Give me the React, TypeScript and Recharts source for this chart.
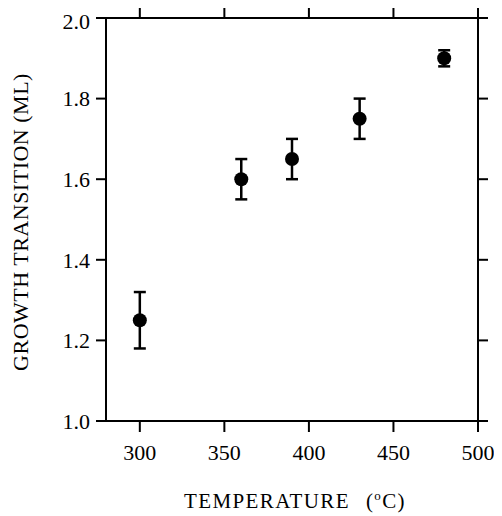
import { ComposedChart, Scatter, XAxis, YAxis, ErrorBar } from "recharts";

const temperatures = [300, 360, 390, 430, 480];
const transition = [1.25, 1.6, 1.65, 1.75, 1.9];
const transitionErr = [0.07, 0.05, 0.05, 0.05, 0.02];
const xTicks = [300, 350, 400, 450, 500];
const yTicks = [1.0, 1.2, 1.4, 1.6, 1.8, 2.0];

const X_MIN = 280;
const X_MAX = 500;
const Y_MIN = 1;
const Y_MAX = 2;

const rows = temperatures.map((t, i) => ({
  t,
  ml: transition[i],
  err: transitionErr[i],
}));

// anchor points for the outward ticks on the top and right frame
const topTickRows = xTicks.map((t) => ({ t, ml: Y_MAX }));
const rightTickRows = yTicks.map((ml) => ({ t: X_MAX, ml }));

const FONT = "Liberation Serif";
const tickStyle = { fill: "#000", fontSize: 22, fontFamily: FONT, style: { fontFamily: FONT } };
const lineStyle = { stroke: "#000", strokeWidth: 2 };

const upTick = ({ cx, cy }: any) => (
  <line x1={cx} x2={cx} y1={cy} y2={cy - 10} stroke="#000" strokeWidth={2} />
);
const rightTick = ({ cx, cy }: any) => (
  <line x1={cx} x2={cx + 10} y1={cy} y2={cy} stroke="#000" strokeWidth={2} />
);

function XTitle({ viewBox }: any) {
  const cx = viewBox.x + viewBox.width / 2 + 3;
  return (
    <text
      x={cx}
      y={500}
      textAnchor="middle"
      fill="#000"
      fontSize={21}
      letterSpacing={1.4}
      style={{ fontFamily: FONT }}
    >
      TEMPERATURE
      <tspan dx={16}>(</tspan>
      <tspan fontSize={13} dy={-8}>o</tspan>
      <tspan dy={8}>C)</tspan>
    </text>
  );
}

function YTitle({ viewBox }: any) {
  const cy = viewBox.y + viewBox.height / 2 + 2.5;
  return (
    <text
      x={20}
      y={cy}
      transform={`rotate(-90, 20, ${cy})`}
      textAnchor="middle"
      fill="#000"
      fontSize={22}
      letterSpacing={0.5}
      style={{ fontFamily: FONT }}
    >
      GROWTH TRANSITION (ML)
    </text>
  );
}

const dot = (props: any) => <circle cx={props.cx} cy={props.cy} r={7} fill="#000" />;

export default function App() {
  return (
    <ComposedChart
      width={494}
      height={508}
      data={rows}
      margin={{ top: 9, right: 23, bottom: 0, left: 0 }}
      style={{ fontFamily: FONT }}
    >
      <XAxis
        xAxisId="bottom"
        type="number"
        dataKey="t"
        domain={[X_MIN, X_MAX]}
        ticks={xTicks}
        height={95}
        tickSize={11}
        tickMargin={12}
        tick={tickStyle}
        axisLine={lineStyle}
        tickLine={lineStyle}
        label={<XTitle />}
      />
      <XAxis
        xAxisId="top"
        orientation="top"
        type="number"
        domain={[X_MIN, X_MAX]}
        height={1}
        tick={false}
        tickLine={false}
        axisLine={lineStyle}
      />
      <YAxis
        yAxisId="left"
        type="number"
        dataKey="ml"
        domain={[Y_MIN, Y_MAX]}
        ticks={yTicks}
        width={98}
        tickSize={10}
        tickMargin={6}
        tickFormatter={(v: number) => v.toFixed(1)}
        tick={tickStyle}
        axisLine={lineStyle}
        tickLine={lineStyle}
        label={<YTitle />}
      />
      <YAxis
        yAxisId="right"
        orientation="right"
        type="number"
        domain={[Y_MIN, Y_MAX]}
        width={1}
        tick={false}
        tickLine={false}
        axisLine={lineStyle}
      />
      <Scatter
        xAxisId="bottom"
        yAxisId="left"
        data={topTickRows}
        dataKey="ml"
        shape={upTick}
        legendType="none"
        isAnimationActive={false}
      />
      <Scatter
        xAxisId="bottom"
        yAxisId="left"
        data={rightTickRows}
        dataKey="ml"
        shape={rightTick}
        legendType="none"
        isAnimationActive={false}
      />
      <Scatter
        xAxisId="bottom"
        yAxisId="left"
        data={rows}
        dataKey="ml"
        fill="#000"
        shape={dot}
        isAnimationActive={false}
      >
        <ErrorBar
          dataKey="err"
          direction="y"
          width={6}
          stroke="#000"
          strokeWidth={2.5}
          isAnimationActive={false}
        />
      </Scatter>
    </ComposedChart>
  );
}
